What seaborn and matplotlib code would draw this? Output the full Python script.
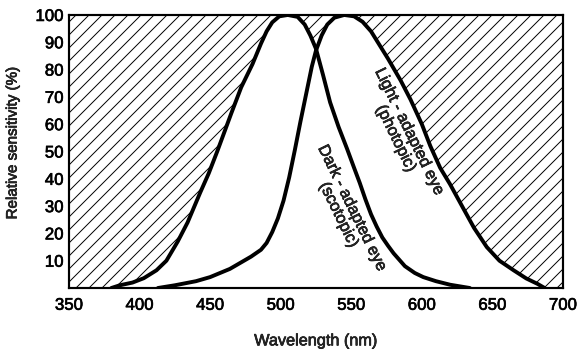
#plot.py  - relative sensitivity of the eye, photopic vs scotopic

import pandas as pd
import seaborn as sns
import matplotlib.pyplot as plt
import matplotlib.patheffects as pe

# values
scot_nm = [380, 386, 395, 403, 412, 419, 427, 434, 443, 449, 455, 465, 472, 480, 486,
           490, 494, 499, 505, 512, 517, 521, 525, 530, 535, 541, 547, 552, 556, 560,
           564, 568, 572, 576, 580, 588, 595, 601, 610, 620, 634]
scot_pct = [0, 1, 2, 3.6, 6.5, 10, 17, 24, 35, 42, 50, 64, 73.5, 82, 89.5,
            94, 97.3, 99.5, 100, 99.3, 96.5, 92.5, 87.6, 78, 68, 59, 51, 44, 38.5, 32.5,
            27, 22.5, 18.5, 15.5, 12.7, 8, 5.5, 4, 2.5, 1.2, 0]

phot_nm = [413, 425, 440, 450, 464, 479, 486, 490, 494, 498, 502, 506, 510, 514, 518,
           522, 525, 529, 533, 538, 545, 552, 558, 564, 570, 576, 585, 592, 600,
           606, 613, 620, 629, 637, 646, 655, 665, 674, 682, 687]
phot_pct = [0, 1, 2.5, 4, 7, 11.5, 14, 16.5, 20.5, 25.5, 32, 40.5, 50.5, 61, 71,
            81, 87, 92.5, 96.5, 99, 100, 99.5, 97.5, 94, 89, 84, 76, 69, 60,
            52, 44, 38, 29.5, 22, 15, 10, 6.5, 3.5, 1.5, 0]

x_ticks = [350, 400, 450, 500, 550, 600, 650, 700]
y_ticks = [10, 20, 30, 40, 50, 60, 70, 80, 90, 100]

scot = pd.DataFrame({"nm": scot_nm, "pct": scot_pct})
phot = pd.DataFrame({"nm": phot_nm, "pct": phot_pct})

sns.set_style("white")
plt.rcParams["font.family"] = ["Liberation Sans", "DejaVu Sans"]
plt.rcParams["hatch.linewidth"] = 0.9

# slightly heavier strokes on the text, the scan is between regular and bold
thick = [pe.withStroke(linewidth=0.6, foreground="black")]

fig = plt.figure(figsize=(7.3975, 4.5898), dpi=78)
ax = fig.add_axes([0.1196, 0.1955, 0.8561, 0.7627])

# hatched background, then blank out the area under each curve
ax.fill_between([350, 700], 0, 100, facecolor="white", hatch="//",
                edgecolor="black", linewidth=0, zorder=1)
ax.fill_between(scot["nm"], 0, scot["pct"], color="white", linewidth=0, zorder=2)
ax.fill_between(phot["nm"], 0, phot["pct"], color="white", linewidth=0, zorder=2)

sns.lineplot(x="nm", y="pct", data=scot, color="black", linewidth=3.6, ax=ax, zorder=3)
sns.lineplot(x="nm", y="pct", data=phot, color="black", linewidth=3.6, ax=ax, zorder=3)

ax.set_xlim(350, 700)
ax.set_ylim(0, 100)
ax.set_xticks(x_ticks)
ax.set_yticks(y_ticks)
ax.tick_params(direction="in", length=9, width=1.4, colors="black", labelsize=15.5)
ax.tick_params(axis="x", pad=9)
ax.tick_params(axis="y", pad=5)
for lab in ax.get_xticklabels() + ax.get_yticklabels():
    lab.set_path_effects(thick)
for s in ax.spines.values():
    s.set_linewidth(2)
    s.set_color("black")
    s.set_zorder(4)

ax.set_xlabel("Wavelength (nm)", fontsize=15, labelpad=19, path_effects=thick)
ax.set_ylabel("Relative sensitivity (%)", fontsize=14, path_effects=thick)
ax.yaxis.set_label_coords(-0.1, 0.53)

ax.text(586.5, 56, "Light - adapted eye\n(photopic)", rotation=-64, ha="center",
        va="center", fontsize=15, linespacing=1.0, zorder=5, path_effects=thick)
ax.text(546, 28, "Dark - adapted eye\n(scotopic)", rotation=-64, ha="center",
        va="center", fontsize=15, linespacing=1.0, zorder=5, path_effects=thick)

fig.savefig("out.png", dpi=78)
